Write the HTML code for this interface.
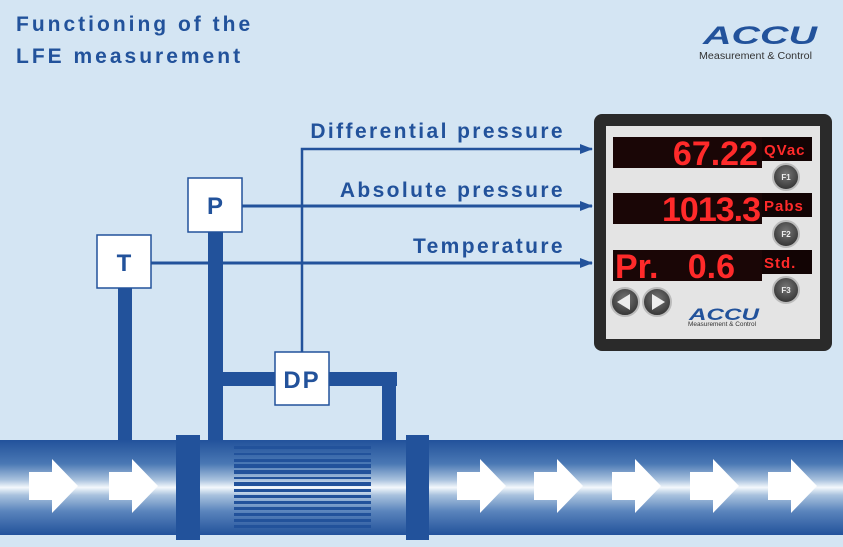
<!DOCTYPE html>
<html><head><meta charset="utf-8"><style>
html,body{margin:0;padding:0;}
body{width:843px;height:547px;overflow:hidden;background:#d4e5f3;}
svg{display:block;}
text{font-family:"Liberation Sans",sans-serif;}
</style></head><body>
<svg width="843" height="547" viewBox="0 0 843 547" xmlns="http://www.w3.org/2000/svg">
<defs>
<linearGradient id="pipe" x1="0" y1="0" x2="0" y2="1">
<stop offset="0" stop-color="#22529b"/>
<stop offset="0.25" stop-color="#4a78b4"/>
<stop offset="0.42" stop-color="#a9c2de"/>
<stop offset="0.5" stop-color="#f4f8fc"/>
<stop offset="0.58" stop-color="#a9c2de"/>
<stop offset="0.75" stop-color="#5a84bc"/>
<stop offset="1" stop-color="#22529b"/>
</linearGradient>
<radialGradient id="btn" cx="0.5" cy="0.4" r="0.6">
<stop offset="0" stop-color="#777"/><stop offset="1" stop-color="#333"/>
</radialGradient>
<marker id="ah" markerWidth="13" markerHeight="10" refX="12" refY="5" orient="auto" markerUnits="userSpaceOnUse">
<path d="M0,0 L13,5 L0,10 Z" fill="#22529b"/></marker>
</defs>
<text x="16" y="31" font-size="21" font-weight="bold" fill="#22529b" letter-spacing="3">Functioning of the</text>
<text x="16" y="63" font-size="21" font-weight="bold" fill="#22529b" letter-spacing="3">LFE measurement</text>
<!-- logo -->
<text x="703" y="44" font-size="25" font-weight="bold" font-style="italic" fill="#22529b" textLength="114" lengthAdjust="spacingAndGlyphs">ACCU</text>
<text x="699" y="59" font-size="10" fill="#333" textLength="113" lengthAdjust="spacingAndGlyphs">Measurement &amp; Control</text>

<!-- pipe -->
<rect x="0" y="440" width="843" height="95" fill="url(#pipe)"/>
<g fill="#22529b">
<rect x="176" y="435" width="24" height="105"/>
<rect x="406" y="435" width="23" height="105"/>
<rect x="118" y="288" width="14" height="152"/>
<rect x="208" y="232" width="15" height="208"/>
<rect x="223" y="372" width="174" height="14"/>
<rect x="382" y="372" width="14" height="68"/>
</g>
<g fill="#22529b">
<rect x="234" y="446" width="137" height="3"/><rect x="234" y="453" width="137" height="2"/>
<rect x="234" y="459" width="137" height="3"/><rect x="234" y="464" width="137" height="4"/>
<rect x="234" y="470" width="137" height="4"/><rect x="234" y="477" width="137" height="2"/>
<rect x="234" y="482" width="137" height="4"/><rect x="234" y="489" width="137" height="3"/>
<rect x="234" y="495" width="137" height="3"/><rect x="234" y="501" width="137" height="3"/>
<rect x="234" y="507" width="137" height="3"/><rect x="234" y="513" width="137" height="3"/>
<rect x="234" y="519" width="137" height="3"/><rect x="234" y="525" width="137" height="3"/>
</g>
<g fill="#fff">
<path id="fa" d="M29,472 H52 V459 L78,486 L52,513 V500 H29 Z"/>
<use href="#fa" x="80"/><use href="#fa" x="428"/><use href="#fa" x="505"/><use href="#fa" x="583"/><use href="#fa" x="661"/><use href="#fa" x="739"/>
</g>

<!-- signal lines -->
<g stroke="#22529b" fill="none">
<path d="M302,352 V149 H592" stroke-width="2.5" marker-end="url(#ah)"/>
<path d="M242,206 H592" stroke-width="3" marker-end="url(#ah)"/>
<path d="M151,263 H592" stroke-width="3" marker-end="url(#ah)"/>
</g>
<g font-size="21" font-weight="bold" fill="#22529b" letter-spacing="2.4" text-anchor="end">
<text x="565" y="138">Differential pressure</text>
<text x="565" y="197">Absolute pressure</text>
<text x="565" y="253">Temperature</text>
</g>

<!-- boxes -->
<g fill="#fff" stroke="#22529b" stroke-width="1.5">
<rect x="188" y="178" width="54" height="54"/>
<rect x="97" y="235" width="54" height="53"/>
<rect x="275" y="352" width="54" height="53"/>
</g>
<g font-size="24" font-weight="bold" fill="#22529b" text-anchor="middle">
<text x="215" y="214">P</text>
<text x="124" y="271">T</text>
<text x="302" y="388" letter-spacing="2">DP</text>
</g>

<!-- display -->
<rect x="594" y="114" width="238" height="237" rx="8" fill="#2a2a2a"/>
<rect x="606" y="126" width="214" height="213" fill="#e4e4e4"/>
<g font-family="Liberation Mono,monospace" font-weight="bold" fill="#ff2a2a">
<rect x="613" y="137" width="149" height="31" fill="#1a0606"/><rect x="762" y="137" width="50" height="24" fill="#120404"/>
<text x="758" y="165" font-size="34" text-anchor="end" letter-spacing="0">67.22</text>
<text x="764" y="155" font-size="15" letter-spacing="1">QVac</text>
<rect x="613" y="193" width="149" height="31" fill="#1a0606"/><rect x="762" y="193" width="50" height="24" fill="#120404"/>
<text x="760" y="221" font-size="34" text-anchor="end" letter-spacing="-1">1013.3</text>
<text x="764" y="211" font-size="15" letter-spacing="1">Pabs</text>
<rect x="613" y="250" width="149" height="31" fill="#1a0606"/><rect x="762" y="250" width="50" height="24" fill="#120404"/>
<text x="615" y="278" font-size="34" letter-spacing="0">Pr.</text>
<text x="735" y="278" font-size="34" text-anchor="end" letter-spacing="0">0.6</text>
<text x="764" y="268" font-size="15" letter-spacing="1">Std.</text>
</g>
<g stroke="#bbb" stroke-width="2" fill="url(#btn)">
<circle cx="786" cy="177" r="13"/><circle cx="786" cy="234" r="13"/><circle cx="786" cy="290" r="13"/>
<circle cx="625" cy="302" r="14"/><circle cx="657" cy="302" r="14"/>
</g>
<g font-size="8" font-weight="bold" fill="#eee" text-anchor="middle">
<text x="786" y="180">F1</text><text x="786" y="237">F2</text><text x="786" y="293">F3</text>
</g>
<path d="M617,302 L630,294 V310 Z" fill="#eee"/><path d="M665,302 L652,294 V310 Z" fill="#eee"/>
<text x="689" y="320" font-size="17" font-weight="bold" font-style="italic" fill="#22529b" textLength="70" lengthAdjust="spacingAndGlyphs">ACCU</text>
<text x="688" y="326" font-size="6.5" fill="#333" textLength="68" lengthAdjust="spacingAndGlyphs">Measurement &amp; Control</text>
</svg>
</body></html>
